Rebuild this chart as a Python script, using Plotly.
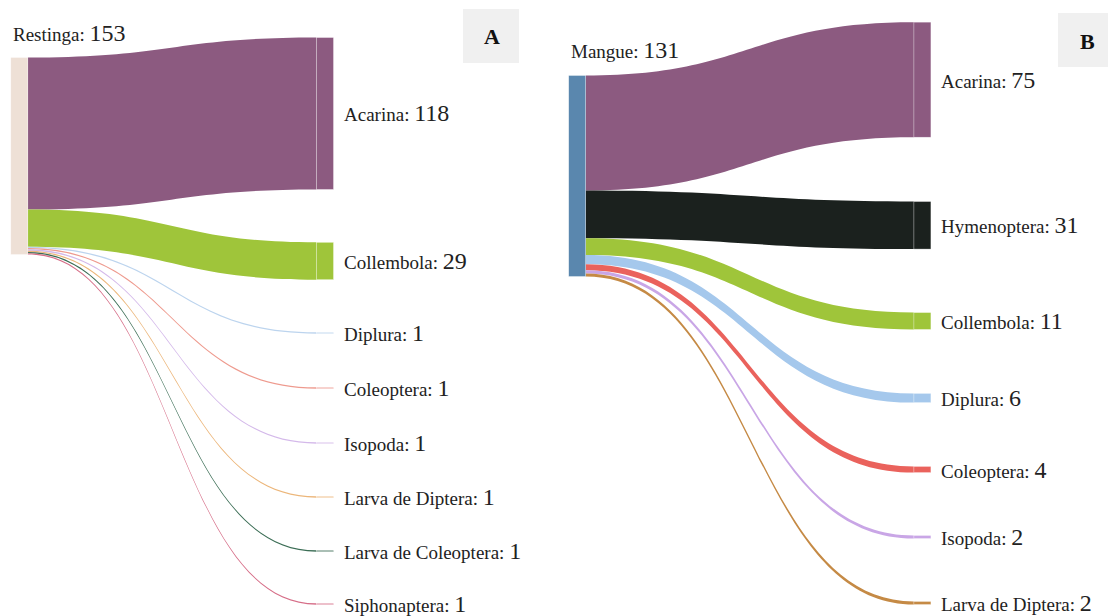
import plotly.graph_objects as go

# ---------------- data ----------------
restinga_source = "Restinga"
restinga_taxa = ["Acarina", "Collembola", "Diplura", "Coleoptera", "Isopoda",
                 "Larva de Diptera", "Larva de Coleoptera", "Siphonaptera"]
restinga_values = [118, 29, 1, 1, 1, 1, 1, 1]

mangue_source = "Mangue"
mangue_taxa = ["Acarina", "Hymenoptera", "Collembola", "Diplura", "Coleoptera",
               "Isopoda", "Larva de Diptera"]
mangue_values = [75, 31, 11, 6, 4, 2, 2]

panel_letters = ["A", "B"]

# ---------------- styles / layout ----------------
W, H = 1108, 616
FONT = "Liberation Serif, Times New Roman, serif"
TXT = "#222222"
NAME_SIZE = 19
NUM_SIZE = 24
THICK = 17

restinga_node_color = "#eee0d6"
restinga_colors = ["#8c5a80", "#9fc53a", "#bcd4ee", "#ee9a8e", "#d4b9ea",
                   "#ecb67a", "#3b6d55", "#d66e88"]
mangue_node_color = "#5a87ae"
mangue_colors = ["#8c5a80", "#1b211e", "#9fc53a", "#a5c8ec", "#ea625c",
                 "#c9a6e6", "#c58a45"]

# panel geometry (pixels): horizontal extent, vertical extent of sankey domain
left_px_x = (0, 554)
left_px_y = (25, 616)      # node stack = 1/3 of domain height
right_px_x = (554, 1108)
right_px_y = (13, 616)

# node centre positions (pixels inside the figure)
left_src_xc, left_tgt_xc = 19.3, 325
left_src_yc = 156
left_tgt_yc = [113.5, 261, 333, 388, 443, 497, 551, 604]
left_label_xy = (10.7, 33)

right_src_xc, right_tgt_xc = 577.2, 922.4
right_src_yc = 176
right_tgt_yc = [79.7, 225.3, 321, 398, 469.5, 537, 603]
right_label_xy = (568.5, 50)


def label_text(name, value):
    return f"{name}: <span style='font-size:{NUM_SIZE}px'>{value}</span>"


def build(source, taxa, values, node_color, colors, px_x, px_y, src_xc, tgt_xc,
          src_yc, tgt_yc, src_label_xy):
    dw = px_x[1] - px_x[0]
    dh = px_y[1] - px_y[0]
    dom_x = [px_x[0] / W, px_x[1] / W]
    dom_y = [1 - px_y[1] / H, 1 - px_y[0] / H]
    n_tgt = len(taxa)
    pad = (dh * 2 / 3) / (n_tgt - 1)
    labels = [""] * (n_tgt + 1)
    nx = [(src_xc - px_x[0]) / dw] + [(tgt_xc - px_x[0]) / dw] * n_tgt
    ny = [(src_yc - px_y[0]) / dh] + [(y - px_y[0]) / dh for y in tgt_yc]
    trace = go.Sankey(
        domain=dict(x=dom_x, y=dom_y),
        arrangement="fixed",
        node=dict(
            label=labels,
            x=nx,
            y=ny,
            pad=pad,
            thickness=THICK,
            color=[node_color] + colors,
            line=dict(width=0.6, color="rgba(255,255,255,0.55)"),
            hoverinfo="none",
        ),
        link=dict(
            source=[0] * n_tgt,
            target=list(range(1, n_tgt + 1)),
            value=values,
            color=colors,
            hoverinfo="none",
        ),
    )
    anns = [dict(
        x=src_label_xy[0] / W, y=1 - src_label_xy[1] / H,
        xref="paper", yref="paper", showarrow=False,
        text=label_text(source, sum(values)),
        xanchor="left", yanchor="middle",
        font=dict(family=FONT, size=NAME_SIZE, color=TXT),
    )]
    for name, v, yc in zip(taxa, values, tgt_yc):
        anns.append(dict(
            x=(tgt_xc + THICK / 2 + 8) / W, y=1 - yc / H,
            xref="paper", yref="paper", showarrow=False,
            text=label_text(name, v),
            xanchor="left", yanchor="middle",
            font=dict(family=FONT, size=NAME_SIZE, color=TXT),
        ))
    return trace, anns


t1, a1 = build(restinga_source, restinga_taxa, restinga_values,
               restinga_node_color, restinga_colors, left_px_x, left_px_y,
               left_src_xc, left_tgt_xc, left_src_yc, left_tgt_yc, left_label_xy)
t2, a2 = build(mangue_source, mangue_taxa, mangue_values,
               mangue_node_color, mangue_colors, right_px_x, right_px_y,
               right_src_xc, right_tgt_xc, right_src_yc, right_tgt_yc, right_label_xy)

fig = go.Figure([t1, t2])

shapes = [
    dict(type="rect", xref="paper", yref="paper",
         x0=463 / W, x1=519 / W, y0=1 - 63 / H, y1=1 - 9 / H,
         fillcolor="#f0f0f0", line=dict(width=0), layer="below"),
    dict(type="rect", xref="paper", yref="paper",
         x0=1058 / W, x1=1108 / W, y0=1 - 67 / H, y1=1 - 13 / H,
         fillcolor="#f0f0f0", line=dict(width=0), layer="below"),
]
letter_anns = [
    dict(x=492 / W, y=1 - 37 / H, text=f"<b>{panel_letters[0]}</b>"),
    dict(x=1087 / W, y=1 - 41 / H, text=f"<b>{panel_letters[1]}</b>"),
]
for la in letter_anns:
    la.update(xref="paper", yref="paper", showarrow=False,
              xanchor="center", yanchor="middle",
              font=dict(family=FONT, size=22, color="#111111"))

fig.update_layout(
    width=W, height=H,
    margin=dict(l=0, r=0, t=0, b=0),
    paper_bgcolor="white", plot_bgcolor="white",
    shapes=shapes,
    annotations=a1 + a2 + letter_anns,
    showlegend=False,
)

fig.write_html(
    "out.html",
    config={"displayModeBar": False},
    post_script="document.body.style.margin='0';document.body.style.overflow='hidden';",
)
